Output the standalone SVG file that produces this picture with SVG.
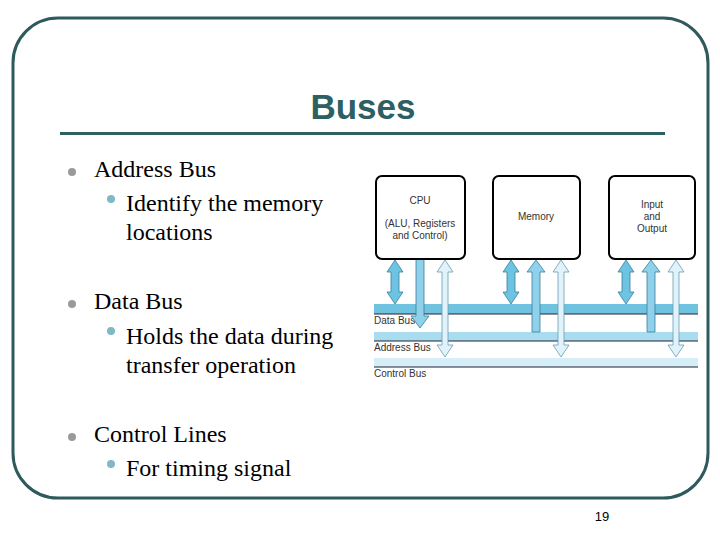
<svg xmlns="http://www.w3.org/2000/svg" width="720" height="540" viewBox="0 0 720 540">
<defs>
<style>
.t{font-family:"Liberation Serif",serif;font-size:24px;fill:#000}
.s{font-family:"Liberation Sans",sans-serif;font-size:10px;fill:#333}
.box{fill:#fff;stroke:#000;stroke-width:2}
.d{fill:#6cc3e2;stroke:#3a7f9a;stroke-width:0.8}
.m{fill:#8fd0ea;stroke:#3a7f9a;stroke-width:0.8}
.l{fill:#e0f2fa;stroke:#6a9cb0;stroke-width:0.8}
</style>
</defs>
<rect width="720" height="540" fill="#fff"/>
<rect x="13" y="18" width="695" height="480" rx="45" fill="none" stroke="#2f5a5c" stroke-width="3"/>
<text x="363" y="119" text-anchor="middle" font-family="Liberation Sans,sans-serif" font-weight="bold" font-size="35" fill="#2e5f63">Buses</text>
<rect x="60" y="132" width="605" height="3" fill="#2e5f63"/>
<g id="bullets">
<circle cx="72" cy="172" r="4" fill="#9a9a9a"/>
<text class="t" x="94" y="177">Address Bus</text>
<circle cx="111" cy="199" r="4" fill="#7fb8c7"/>
<text class="t" x="126" y="211">Identify the memory</text>
<text class="t" x="126" y="240">locations</text>
<circle cx="72" cy="304" r="4" fill="#9a9a9a"/>
<text class="t" x="94" y="309">Data Bus</text>
<circle cx="111" cy="331" r="4" fill="#7fb8c7"/>
<text class="t" x="126" y="344">Holds the data during</text>
<text class="t" x="126" y="373">transfer operation</text>
<circle cx="72" cy="437" r="4" fill="#9a9a9a"/>
<text class="t" x="94" y="442">Control Lines</text>
<circle cx="111" cy="464" r="4" fill="#7fb8c7"/>
<text class="t" x="126" y="476">For timing signal</text>
</g>
<g id="buses">
<rect x="374" y="304" width="324" height="10" fill="#6fc3e0"/>
<line x1="374" y1="314" x2="698" y2="314" stroke="#223" stroke-width="1"/>
<rect x="374" y="332" width="324" height="9" fill="#a9dcef"/>
<line x1="374" y1="341" x2="698" y2="341" stroke="#223" stroke-width="1"/>
<rect x="374" y="358" width="324" height="9" fill="#d6eef8"/>
<line x1="374" y1="367" x2="698" y2="367" stroke="#223" stroke-width="1"/>
<text class="s" x="374" y="324">Data Bus</text>
<text class="s" x="374" y="351">Address Bus</text>
<text class="s" x="374" y="377">Control Bus</text>
</g>
<g id="connectors">
<path class="d" d="M395 260 L403 272 L399 272 L399 292 L403 292 L395 304 L387 292 L391 292 L391 272 L387 272 Z"/>
<path class="m" d="M416 259 L424 259 L424 316 L429 316 L420 328 L411 316 L416 316 Z"/>
<path class="l" d="M445 260 L453 272 L448 272 L448 345 L453 345 L445 357 L437 345 L442 345 L442 272 L437 272 Z"/>
<path class="d" d="M511 260 L519 272 L515 272 L515 292 L519 292 L511 304 L503 292 L507 292 L507 272 L503 272 Z"/>
<path class="m" d="M532 332 L540 332 L540 272 L545 272 L536 260 L527 272 L532 272 Z"/>
<path class="l" d="M561 260 L569 272 L564 272 L564 345 L569 345 L561 357 L553 345 L558 345 L558 272 L553 272 Z"/>
<path class="d" d="M626 260 L634 272 L630 272 L630 292 L634 292 L626 304 L618 292 L622 292 L622 272 L618 272 Z"/>
<path class="m" d="M647 332 L655 332 L655 272 L660 272 L651 260 L642 272 L647 272 Z"/>
<path class="l" d="M676 260 L684 272 L679 272 L679 345 L684 345 L676 357 L668 345 L673 345 L673 272 L668 272 Z"/>
</g>
<g id="cpu">
<rect class="box" x="376" y="176" width="89" height="83" rx="6"/>
<text class="s" x="420" y="204" text-anchor="middle">CPU</text>
<text class="s" x="420" y="227" text-anchor="middle">(ALU, Registers</text>
<text class="s" x="420" y="239" text-anchor="middle">and Control)</text>
</g>
<g id="memory">
<rect class="box" x="493" y="176" width="87" height="83" rx="6"/>
<text class="s" x="536" y="220" text-anchor="middle">Memory</text>
</g>
<g id="io">
<rect class="box" x="609" y="176" width="86" height="83" rx="6"/>
<text class="s" x="652" y="208" text-anchor="middle">Input</text>
<text class="s" x="652" y="220" text-anchor="middle">and</text>
<text class="s" x="652" y="232" text-anchor="middle">Output</text>
</g>
<text x="602" y="521" text-anchor="middle" font-family="Liberation Sans,sans-serif" font-size="13" fill="#000">19</text>
</svg>
